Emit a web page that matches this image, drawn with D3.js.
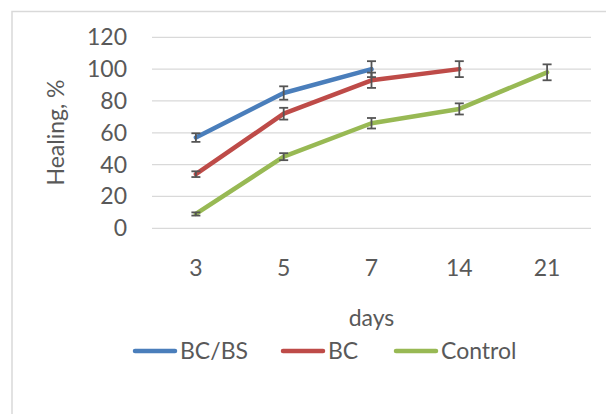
<!DOCTYPE html>
<html>
<head>
<meta charset="utf-8">
<script src="https://cdn.jsdelivr.net/npm/d3@7"></script>
<style>
  html, body { margin: 0; padding: 0; background: #fff; }
  svg { display: block; }
  text { font-family: "Lato", "Liberation Sans", sans-serif; fill: #595959; }
</style>
</head>
<body>
<svg id="chart" width="606" height="414"></svg>
<script>
// Wound healing over time, mean ± error
const days = ["3", "5", "7", "14", "21"];
const yTicks = [0, 20, 40, 60, 80, 100, 120];

const seriesNames = ["BC/BS", "BC", "Control"];
const seriesColors = ["#4a7ebb", "#be4b48", "#98b954"];

const bcbsValues   = [57, 85, 100];
const bcValues     = [34, 72, 93, 100];
const controlValues = [9, 45, 66, 75, 98];

const bcbsErrors    = [2.7, 4.2, 5];
const bcErrors      = [1.8, 3.7, 4.8, 5];
const controlErrors = [1, 2.2, 3.3, 3.5, 5];

const allValues = [bcbsValues, bcValues, controlValues];
const allErrors = [bcbsErrors, bcErrors, controlErrors];

const FONT = 23;
const svg = d3.select("#chart");

// outer chart frame
svg.append("rect")
  .attr("x", 12).attr("y", 11.5)
  .attr("width", 620).attr("height", 420)
  .attr("fill", "none").attr("stroke", "#d9d9d9").attr("stroke-width", 1.5);

const x = d3.scaleBand().domain(days).range([152, 591]).padding(0);
const y = d3.scaleLinear().domain([0, 120]).range([228.3, 37.3]);
const cx = d => x(d) + x.bandwidth() / 2;

// gridlines
svg.append("g").selectAll("line").data(yTicks).join("line")
  .attr("x1", 152).attr("x2", 591)
  .attr("y1", d => y(d)).attr("y2", d => y(d))
  .attr("stroke", "#d9d9d9").attr("stroke-width", 1.3);

// y axis labels
const yAxis = svg.append("g")
  .attr("transform", "translate(152,0)")
  .call(d3.axisLeft(y).tickValues(yTicks).tickSize(0).tickPadding(25));
yAxis.select(".domain").remove();
yAxis.selectAll("text")
  .attr("font-size", FONT).attr("fill", "#595959")
  .style("font-family", "Lato, 'Liberation Sans', sans-serif");

// x axis labels
const xAxis = svg.append("g")
  .attr("transform", "translate(0,228.3)")
  .call(d3.axisBottom(x).tickSize(0).tickPadding(31));
xAxis.select(".domain").remove();
xAxis.selectAll("text")
  .attr("font-size", FONT).attr("fill", "#595959")
  .style("font-family", "Lato, 'Liberation Sans', sans-serif");

// axis titles
svg.append("text")
  .attr("transform", "translate(64,132.5) rotate(-90)")
  .attr("text-anchor", "middle")
  .attr("font-size", FONT)
  .text("Healing, %");

svg.append("text")
  .attr("x", 371.5).attr("y", 326)
  .attr("text-anchor", "middle")
  .attr("font-size", FONT)
  .text("days");

// series lines
const line = d3.line().x(d => cx(d.day)).y(d => y(d.v));
allValues.forEach((vals, i) => {
  const pts = vals.map((v, j) => ({ day: days[j], v }));
  svg.append("path")
    .datum(pts)
    .attr("d", line)
    .attr("fill", "none")
    .attr("stroke", seriesColors[i])
    .attr("stroke-width", 4.5)
    .attr("stroke-linejoin", "round")
    .attr("stroke-linecap", "round");
});

// error bars
allValues.forEach((vals, i) => {
  const g = svg.append("g").attr("stroke", "#555").attr("stroke-width", 1.8);
  vals.forEach((v, j) => {
    const e = allErrors[i][j];
    const px = cx(days[j]);
    g.append("line").attr("x1", px).attr("x2", px).attr("y1", y(v - e)).attr("y2", y(v + e));
    [v - e, v + e].forEach(t => {
      g.append("line").attr("x1", px - 4.5).attr("x2", px + 4.5).attr("y1", y(t)).attr("y2", y(t));
    });
  });
});

// legend
const legendItems = [
  { name: seriesNames[0], color: seriesColors[0], x0: 133 },
  { name: seriesNames[1], color: seriesColors[1], x0: 281 },
  { name: seriesNames[2], color: seriesColors[2], x0: 394 }
];
const lg = svg.append("g");
legendItems.forEach(it => {
  lg.append("line")
    .attr("x1", it.x0 + 2).attr("x2", it.x0 + 42)
    .attr("y1", 351).attr("y2", 351)
    .attr("stroke", it.color).attr("stroke-width", 4.5)
    .attr("stroke-linecap", "round");
  lg.append("text")
    .attr("x", it.x0 + 47).attr("y", 351)
    .attr("dy", "0.35em")
    .attr("font-size", FONT)
    .text(it.name);
});
</script>
</body>
</html>
